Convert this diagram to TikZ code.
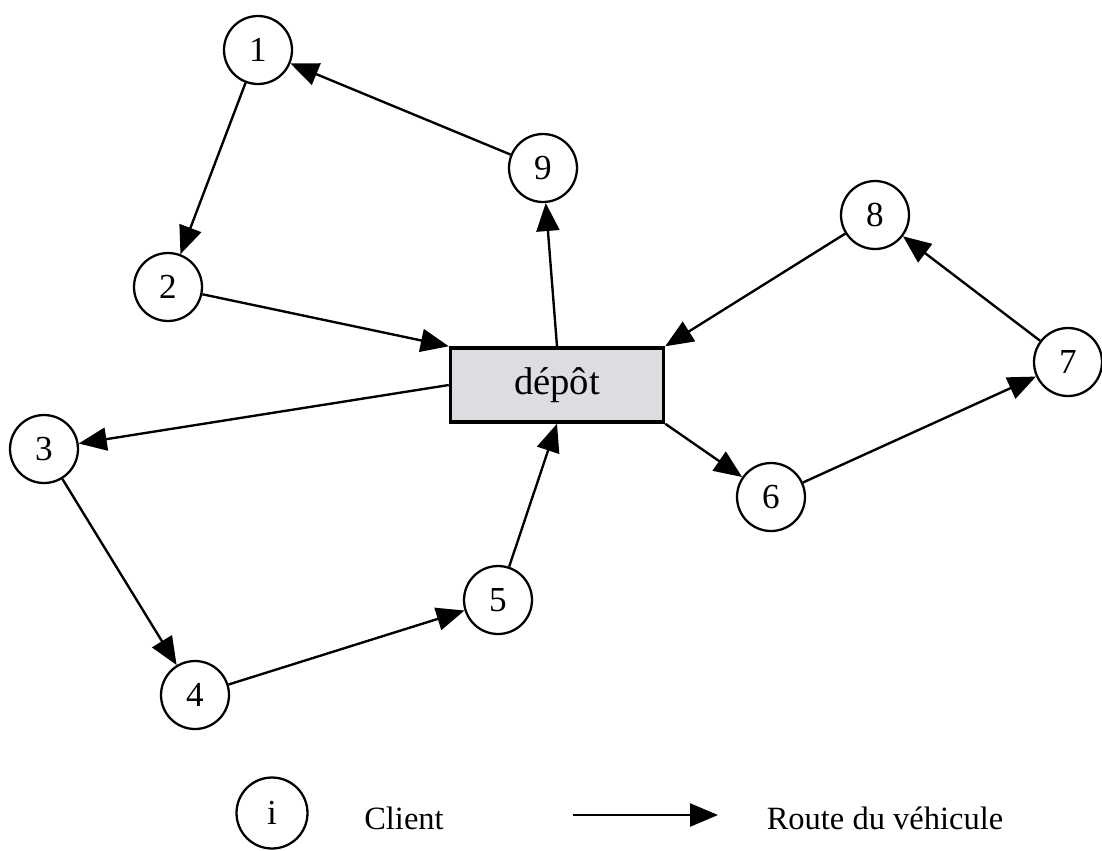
\documentclass[tikz,border=0pt]{standalone}
\usepackage{fontspec}
\setmainfont{Liberation Serif}
\usetikzlibrary{arrows.meta}
\begin{document}
\begin{tikzpicture}[x=0.02cm,y=-0.02cm,
  client/.style={circle,draw,line width=1.3pt,minimum size=1.36cm,inner sep=0pt,fill=white,font=\fontsize{20}{24}\selectfont},
  depotbox/.style={rectangle,draw,line width=2pt,fill=depotgray,minimum width=4.26cm,minimum height=1.48cm,font=\fontsize{22}{26}\selectfont},
  route/.style={line width=1.35pt,-{Triangle[length=0.56cm,width=0.46cm]}},
  legendtext/.style={font=\fontsize{18.5}{22}\selectfont}]
\definecolor{depotgray}{HTML}{DCDDE0}
\useasboundingbox (0,0) rectangle (1102,850);
\node[client] (n1) at (258,50) {1};
\node[client] (n9) at (543,168) {9};
\node[client] (n2) at (168,287) {2};
\node[client] (n8) at (875,215) {8};
\node[depotbox] (d) at (557,385) {dépôt};
\node[client] (n7) at (1068,362) {7};
\node[client] (n3) at (44,449) {3};
\node[client] (n6) at (771,497) {6};
\node[client] (n5) at (498,600) {5};
\node[client] (n4) at (195,695) {4};
\draw[route] (n9) -- (n1);
\draw[route] (n1) -- (n2);
\draw[route] (n2) -- (d.north west);
\draw[route] (d.north) -- (n9);
\draw[route] (n8) -- (d.north east);
\draw[route] (n7) -- (n8);
\draw[route] (n6) -- (n7);
\draw[route] (d.south east) -- (n6);
\draw[route] (d.west) -- (n3);
\draw[route] (n3) -- (n4);
\draw[route] (n4) -- (n5);
\draw[route] (n5) -- (d.south);
% legend
\node[client,minimum size=1.42cm] (li) at (272,813) {i};
\node[legendtext] (lc) at (404,818) {Client};
\coordinate (la) at (573,815);
\coordinate (lb) at (718,815);
\draw[route] (la) -- (lb);
\node[legendtext] (lr) at (885,818) {Route du véhicule};
\end{tikzpicture}
\end{document}
